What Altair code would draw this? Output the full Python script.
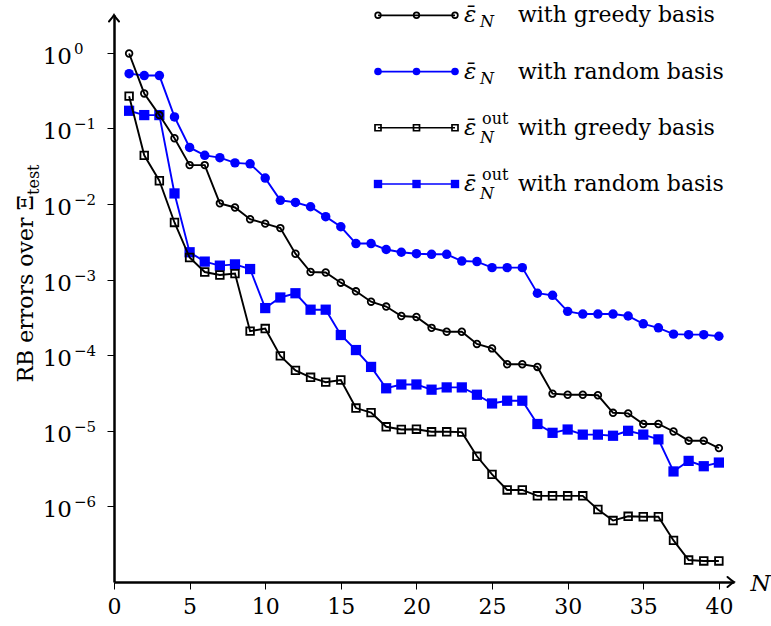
import altair as alt
import pandas as pd

# Reduced-basis error indicators over the test set, N = 1..40
N = list(range(1, 41))
err_greedy = [0.98, 0.29, 0.15, 0.074, 0.0327, 0.0327, 0.0102, 0.009, 0.0063, 0.0055,
              0.0048, 0.0022, 0.00126, 0.00124, 0.00091, 0.0007, 0.00051, 0.00044, 0.00033, 0.00032,
              0.00023, 0.000204, 0.000204, 0.000141, 0.000123, 7.6e-5, 7.6e-5, 7.0e-5, 3.1e-5, 3.0e-5,
              3.0e-5, 2.95e-5, 1.73e-5, 1.7e-5, 1.23e-5, 1.23e-5, 9.8e-6, 7.4e-6, 7.4e-6, 5.9e-6]
err_random = [0.53, 0.50, 0.50, 0.142, 0.056, 0.044, 0.041, 0.035, 0.034, 0.022,
              0.0112, 0.0105, 0.0092, 0.0068, 0.0050, 0.0030, 0.0030, 0.0025, 0.0023, 0.0022,
              0.00216, 0.00216, 0.00176, 0.00173, 0.00144, 0.00144, 0.00144, 0.00066, 0.00062, 0.00038,
              0.00035, 0.00035, 0.00035, 0.00033, 0.00026, 0.00023, 0.00019, 0.000187, 0.000187, 0.000178]
err_out_greedy = [0.267, 0.044, 0.0203, 0.0057, 0.00196, 0.00126, 0.00115, 0.0012, 0.000208, 0.000225,
                  9.8e-5, 6.3e-5, 5.1e-5, 4.4e-5, 4.7e-5, 2.0e-5, 1.74e-5, 1.13e-5, 1.04e-5, 1.05e-5,
                  9.7e-6, 9.7e-6, 9.6e-6, 4.6e-6, 2.65e-6, 1.65e-6, 1.65e-6, 1.38e-6, 1.38e-6, 1.38e-6,
                  1.38e-6, 9.1e-7, 6.5e-7, 7.4e-7, 7.3e-7, 7.3e-7, 3.55e-7, 1.95e-7, 1.9e-7, 1.9e-7]
err_out_random = [0.171, 0.15, 0.15, 0.0138, 0.0023, 0.00173, 0.00153, 0.00159, 0.00138, 0.00042,
                  0.00058, 0.00066, 0.00040, 0.00040, 0.000185, 0.000117, 7.0e-5, 3.65e-5, 4.1e-5, 4.1e-5,
                  3.5e-5, 3.75e-5, 3.75e-5, 3.0e-5, 2.3e-5, 2.5e-5, 2.5e-5, 1.23e-5, 9.4e-6, 1.04e-5,
                  8.9e-6, 8.9e-6, 8.6e-6, 1.0e-5, 8.9e-6, 7.7e-6, 2.9e-6, 4.0e-6, 3.4e-6, 3.8e-6]

x_tick_values = [0, 5, 10, 15, 20, 25, 30, 35, 40]
y_tick_exponents = [0, -1, -2, -3, -4, -5, -6]

series_keys = ["greedy", "random", "out_greedy", "out_random"]
legend_basis = ["with greedy basis", "with random basis", "with greedy basis", "with random basis"]
legend_out = [0, 0, 1, 1]

FONT = "DejaVu Serif"
BLUE = "#0000ff"
W, H = 620, 567

styles = {
    "greedy": dict(color="black", shape="circle", filled=False, size=44, lsize=32),
    "random": dict(color=BLUE, shape="circle", filled=True, size=90, lsize=58),
    "out_greedy": dict(color="black", shape="square", filled=False, size=58, lsize=36),
    "out_random": dict(color=BLUE, shape="square", filled=True, size=105, lsize=70),
}

rows = []
for key, vals in zip(series_keys, [err_greedy, err_random, err_out_greedy, err_out_random]):
    for n, v in zip(N, vals):
        rows.append({"N": n, "err": v, "series": key})
df = pd.DataFrame(rows)

x_enc = alt.X(
    "N:Q",
    scale=alt.Scale(domain=[0, 41], nice=False, zero=False),
    axis=alt.Axis(
        values=x_tick_values, grid=False, labelFont=FONT, labelFontSize=22, labelColor="black",
        labelPadding=7, labelFlush=False, tickSize=7, tickWidth=1, tickColor="black",
        domainColor="black", domainWidth=2.5, title="N", titleFont=FONT, titleFontSize=23,
        titleFontStyle="italic", titleFontWeight="normal", titleColor="black", titleX=646,
        titleY=8, titleAlign="center", titleBaseline="alphabetic", titleAngle=0,
    ),
)
y_enc = alt.Y(
    "err:Q",
    scale=alt.Scale(type="log", domain=[1e-7, 10 ** 0.5], nice=False),
    axis=alt.Axis(
        values=[10.0 ** e for e in y_tick_exponents], labels=False, grid=False, tickSize=7,
        tickWidth=1, tickColor="black", domainColor="black", domainWidth=2.5, title=None,
    ),
)

main_layers = []
for key in ["random", "out_random", "out_greedy", "greedy"]:
    st = styles[key]
    base = alt.Chart(df).transform_filter(alt.datum.series == key)
    main_layers.append(base.mark_line(color=st["color"], strokeWidth=1.9).encode(x=x_enc, y=y_enc))
    main_layers.append(
        base.mark_point(
            shape=st["shape"], filled=st["filled"], size=st["size"], color=st["color"],
            strokeWidth=1.8 if not st["filled"] else 0, opacity=1,
        ).encode(x=x_enc, y=y_enc)
    )

# y tick labels: "10" with a raised exponent
tick_df = pd.DataFrame({
    "err": [10.0 ** e for e in y_tick_exponents],
    "exp": [str(e).replace("-", "\u2212") for e in y_tick_exponents],
})
main_layers.append(
    alt.Chart(tick_df).mark_text(
        text="10", align="right", baseline="alphabetic", dy=11, font=FONT, fontSize=23, color="black"
    ).encode(x=alt.value(-42), y=y_enc)
)
main_layers.append(
    alt.Chart(tick_df).mark_text(
        align="left", baseline="alphabetic", dy=1, font=FONT, fontSize=15, color="black"
    ).encode(x=alt.value(-40), y=y_enc, text="exp:N")
)

# axis arrowheads
one = pd.DataFrame({"a": [0]})
main_layers.append(
    alt.Chart(one).mark_point(
        shape="M-1.3,-1 Q-0.5,-0.3 0,0 Q-0.5,0.3 -1.3,1", filled=False, size=100,
        color="black", strokeWidth=2, opacity=1, strokeCap="round",
    ).encode(x=alt.value(W), y=alt.value(H))
)
main_layers.append(
    alt.Chart(one).mark_point(
        shape="M-1,1.3 Q-0.3,0.5 0,0 Q0.3,0.5 1,1.3", filled=False, size=100,
        color="black", strokeWidth=2, opacity=1, strokeCap="round",
    ).encode(x=alt.value(0), y=alt.value(0))
)

# y axis title with subscript
main_layers.append(
    alt.Chart(one).mark_text(
        text="RB errors over \u039e", angle=270, align="right", baseline="alphabetic",
        font=FONT, fontSize=22, color="black",
    ).encode(x=alt.value(-81), y=alt.value(180))
)
main_layers.append(
    alt.Chart(one).mark_text(
        text="test", angle=270, align="left", baseline="alphabetic", dy=6,
        font=FONT, fontSize=16, color="black",
    ).encode(x=alt.value(-81), y=alt.value(180))
)

main = alt.layer(*main_layers)

# legend
glyph_rows = []
for r, key in enumerate(series_keys):
    for k in [0, 1, 2]:
        glyph_rows.append({"row": r, "k": k, "series": key})
glyph_df = pd.DataFrame(glyph_rows)
text_df = pd.DataFrame({"row": list(range(4)), "label": legend_basis, "out": legend_out})

lx = alt.X("k:Q", scale=alt.Scale(domain=[0, 2], range=[264, 341], nice=False, zero=False), axis=None)
ly = alt.Y("row:Q", scale=alt.Scale(domain=[0, 3], range=[0.3, 169], nice=False, zero=False), axis=None)

legend_layers = []
for key in series_keys:
    st = styles[key]
    base = alt.Chart(glyph_df).transform_filter(alt.datum.series == key)
    legend_layers.append(base.mark_line(color=st["color"], strokeWidth=1.7).encode(x=lx, y=ly))
    legend_layers.append(
        base.mark_point(
            shape=st["shape"], filled=st["filled"], size=st["lsize"], color=st["color"],
            strokeWidth=1.7 if not st["filled"] else 0, opacity=1,
        ).encode(x=lx, y=ly)
    )

tbase = alt.Chart(text_df)
legend_layers.append(
    tbase.mark_text(text="\u03b5\u0304", fontStyle="italic", align="left", baseline="alphabetic",
                    dy=7, font=FONT, fontSize=23, color="black").encode(x=alt.value(350), y=ly)
)
legend_layers.append(
    tbase.transform_filter(alt.datum.out == 0).mark_text(
        text="N", fontStyle="italic", align="left", baseline="alphabetic", dy=12,
        font=FONT, fontSize=16, color="black").encode(x=alt.value(366), y=ly)
)
legend_layers.append(
    tbase.transform_filter(alt.datum.out == 1).mark_text(
        text="N", fontStyle="italic", align="left", baseline="alphabetic", dy=15,
        font=FONT, fontSize=16, color="black").encode(x=alt.value(366), y=ly)
)
legend_layers.append(
    tbase.transform_filter(alt.datum.out == 1).mark_text(
        text="out", align="left", baseline="alphabetic", dy=-4,
        font=FONT, fontSize=16, color="black").encode(x=alt.value(368), y=ly)
)
legend_layers.append(
    tbase.mark_text(align="left", baseline="alphabetic", dy=7, font=FONT, fontSize=22,
                    color="black").encode(x=alt.value(404), y=ly, text="label:N")
)

legend = alt.layer(*legend_layers)

chart = (
    alt.layer(main, legend)
    .resolve_scale(x="independent", y="independent")
    .properties(
        width=W, height=H,
        autosize=alt.AutoSizeParams(type="none"),
        padding={"left": 114, "top": 15, "right": 37, "bottom": 44},
    )
    .configure_view(stroke=None)
)

chart.save("out.html", embed_options={"renderer": "svg", "actions": False})
